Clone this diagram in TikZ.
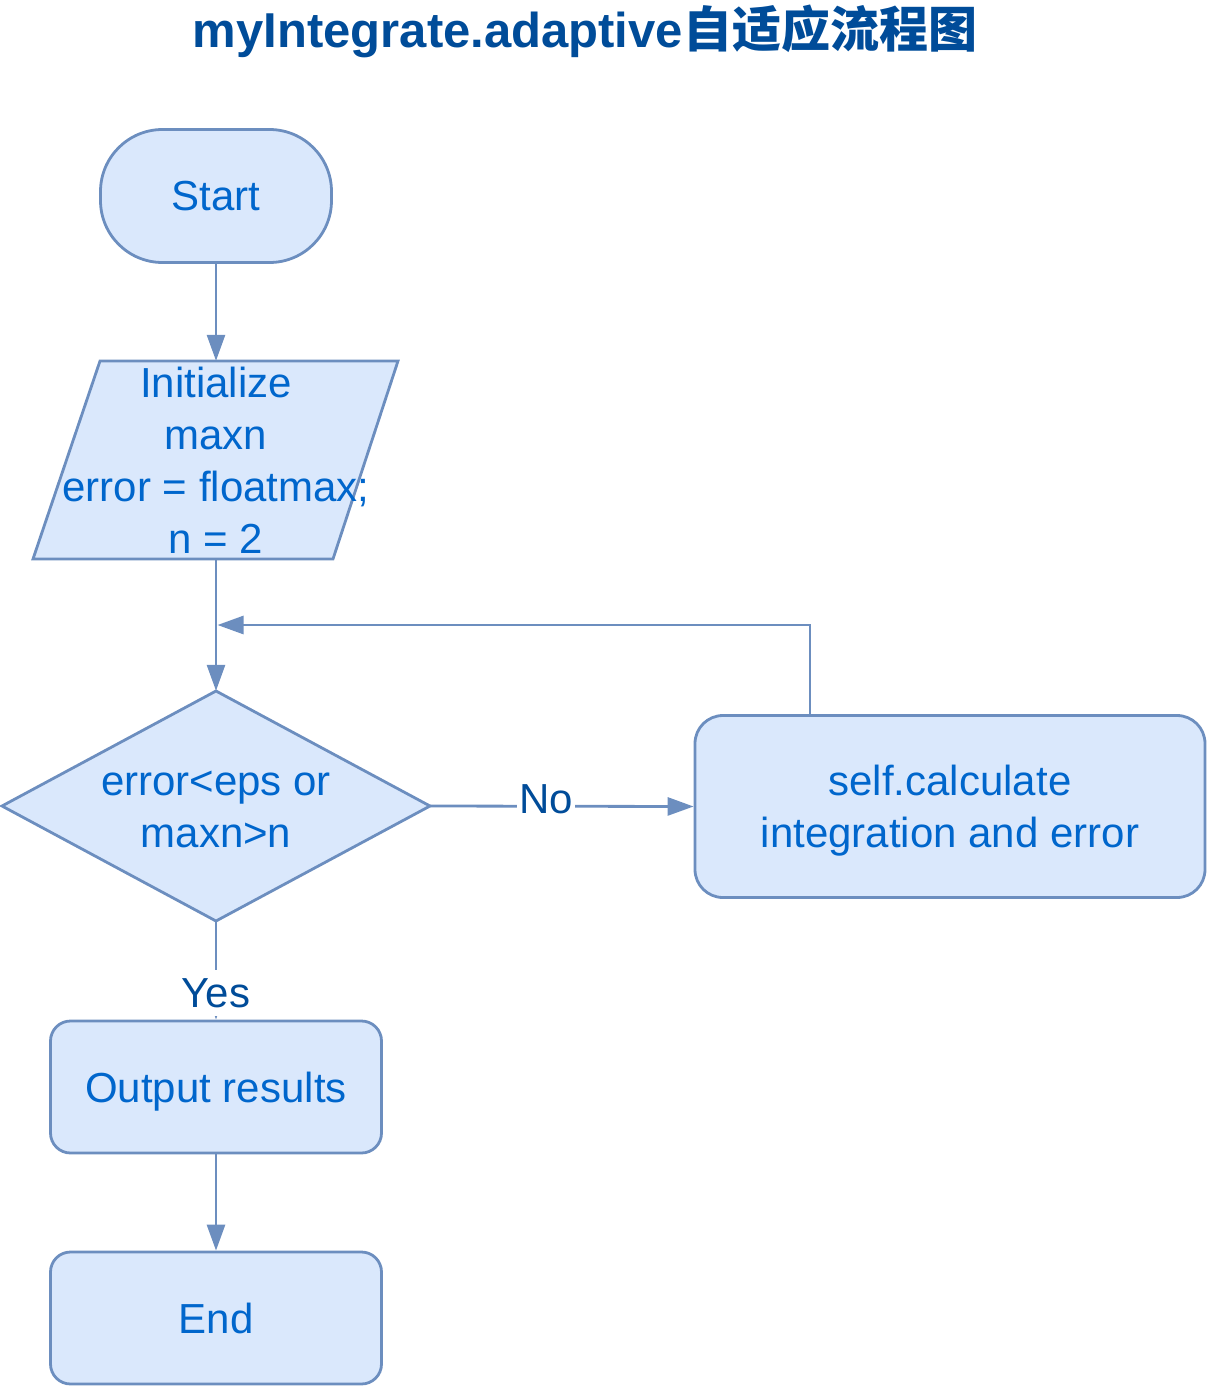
\documentclass[tikz,border=0pt]{standalone}
\usepackage{fontspec}
\setmainfont{Liberation Sans}
\newfontfamily\cjk{Noto Sans CJK SC}
\usetikzlibrary{arrows.meta,shapes.geometric}
\definecolor{fillb}{HTML}{DAE8FC}
\definecolor{strokeb}{HTML}{6C8EBF}
\definecolor{txtb}{HTML}{0066CC}
\definecolor{titleb}{HTML}{004C99}
\begin{document}
\begin{tikzpicture}[x=1pt,y=-1pt,
  shp/.style={draw=strokeb,fill=fillb,line width=2.8pt},
  txt/.style={text=txtb,font=\fontsize{42}{52}\selectfont,align=center,inner sep=0pt},
  arr/.style={draw=strokeb,line width=2.8pt,-{Triangle[length=26pt,width=18pt]}},
  lbl/.style={text=titleb,font=\fontsize{42}{52}\selectfont,fill=white,inner xsep=2pt,inner ysep=0pt}]
\useasboundingbox (0,0) rectangle (1208,1390);

\node[text=titleb,font=\fontsize{49}{58}\selectfont\bfseries,anchor=base,inner sep=0pt] (title) at (585,47) {myIntegrate.adaptive{\cjk\bfseries 自适应流程图}};

\node[shp,txt,minimum width=231,minimum height=133,rounded corners=62] (start) at (216,196) {Start};

\path[shp] (100,361) -- (398,361) -- (333,559) -- (33,559) -- cycle;
\node[txt,minimum width=300,minimum height=198] (init) at (216,460) {Initialize\\maxn\\error = floatmax;\\n = 2};

\path[shp] (2,806) -- (216,691) -- (430,806) -- (216,921) -- cycle;
\node[txt,minimum width=428,minimum height=230] (dec) at (216,806) {};
\node[txt,yshift=-3pt] (dectext) at (dec.center) {error<eps or\\maxn>n};

\node[shp,txt,minimum width=510,minimum height=182,rounded corners=28,text depth=0pt] (calc) at (950,806.5) {self.calculate\\integration and error};

\node[shp,txt,minimum width=331,minimum height=132,rounded corners=20,text depth=0pt] (out) at (216,1087) {Output results};
\node[shp,txt,minimum width=331,minimum height=132,rounded corners=20] (stop) at (216,1318) {End};

\coordinate (lc) at (810,625);
\coordinate (lj) at (217.5,625);

\draw[arr] (start.south) -- (init.north);
\draw[arr] (init.south) -- (dec.north);
\draw[arr] (calc.north -| lc) -- (lc) -- (lj);
\draw[arr] (dec.east) -- node[lbl,pos=0.44,yshift=7pt] {No} (calc.west);
\draw[arr] (dec.south) -- node[lbl,pos=0.73,minimum height=46] {Yes} (out.north);
\draw[arr] (out.south) -- (stop.north);
\end{tikzpicture}
\end{document}
